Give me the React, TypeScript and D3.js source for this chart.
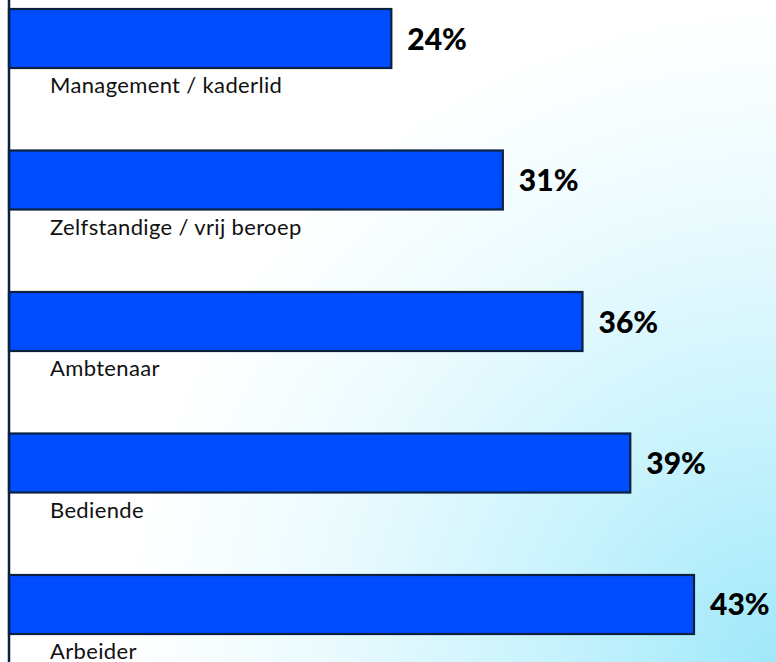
import React from "react";
import * as d3 from "d3";

const categories = [
  "Management / kaderlid",
  "Zelfstandige / vrij beroep",
  "Ambtenaar",
  "Bediende",
  "Arbeider",
];
const values = [24, 31, 36, 39, 43];
const valueLabels = ["24%", "31%", "36%", "39%", "43%"];

const W = 776;
const H = 662;

export default function App() {
  const x = d3.scaleLinear().domain([0, 43]).range([9, 694]);
  const y = d3
    .scaleBand<string>()
    .domain(categories)
    .range([9, 634])
    .paddingInner(0.583)
    .paddingOuter(0);
  const bw = y.bandwidth();

  return (
    <svg
      width={W}
      height={H}
      style={{ position: "absolute", left: 0, top: 0, display: "block" }}
    >
      <defs>
        <radialGradient
          id="bg"
          gradientUnits="userSpaceOnUse"
          cx={776}
          cy={662}
          r={660}
        >
          <stop offset="0" stopColor="#a0e8fa" />
          <stop offset="0.35" stopColor="#c8f3fd" />
          <stop offset="0.7" stopColor="#ecfbfe" />
          <stop offset="1" stopColor="#ffffff" />
        </radialGradient>
      </defs>
      <rect x={0} y={0} width={W} height={H} fill="url(#bg)" />
      {categories.map((c, i) => {
        const y0 = y(c)!;
        return (
          <g key={c}>
            <rect
              x={x(0)}
              y={y0}
              width={x(values[i]) - x(0)}
              height={bw}
              fill="#004cff"
              stroke="#0b2140"
              strokeWidth={2.2}
            />
            <text
              x={x(values[i]) + 16}
              y={y0 + bw / 2 + 11}
              fontFamily="Lato"
              fontWeight={900}
              fontSize={30}
              fill="#000"
            >
              {valueLabels[i]}
            </text>
            <text
              x={50}
              y={y0 + bw + 25}
              fontFamily="Lato"
              fontSize={22}
              letterSpacing={0.35}
              fill="#111"
            >
              {c}
            </text>
          </g>
        );
      })}
      <line x1={9} x2={9} y1={0} y2={H} stroke="#0b2140" strokeWidth={2.5} />
    </svg>
  );
}
